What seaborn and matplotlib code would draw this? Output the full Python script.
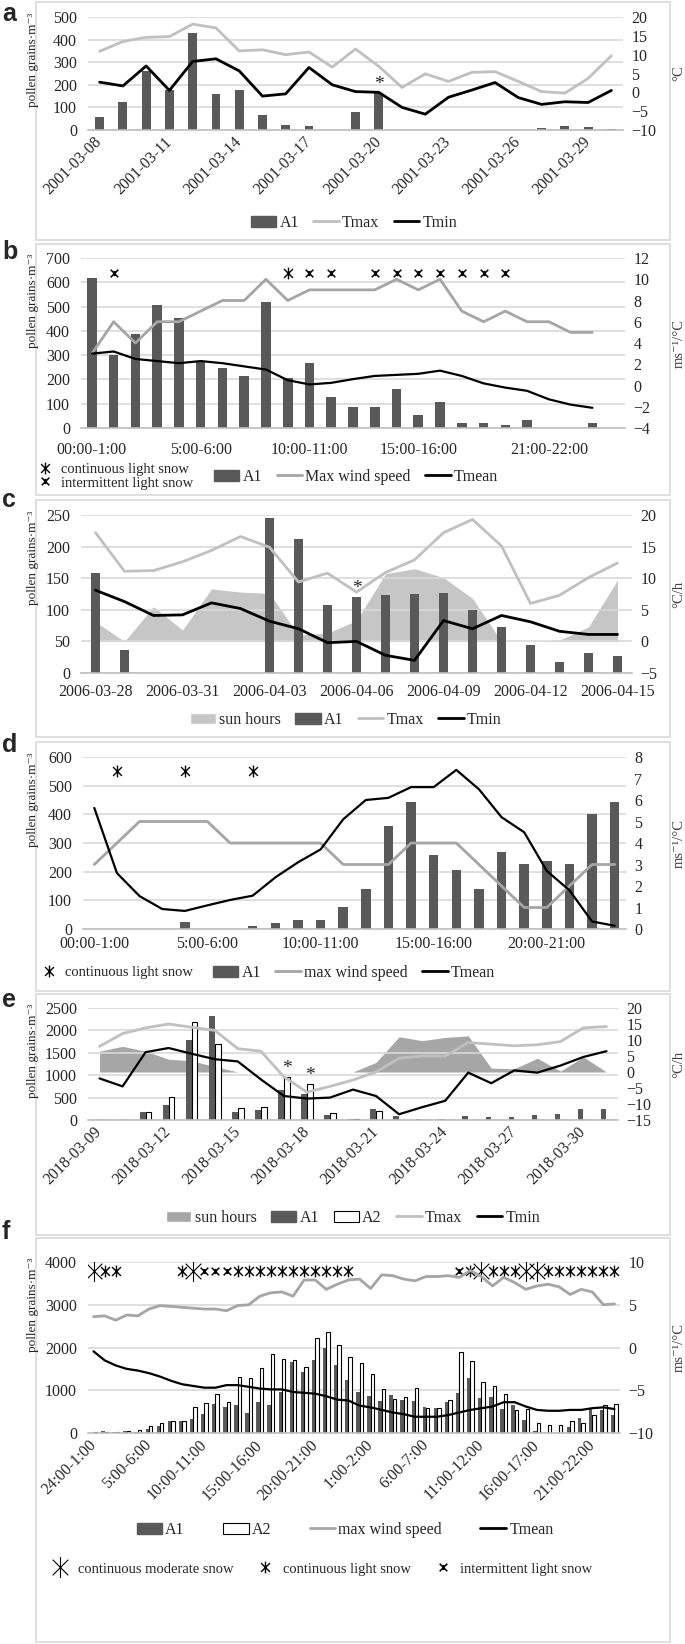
import numpy as np
import pandas as pd
import seaborn as sns
import matplotlib.pyplot as plt
from matplotlib.patches import Patch, Rectangle
from matplotlib.lines import Line2D
from matplotlib.path import Path

# ── Panel a: daily, 2001-03-08 .. 2001-03-30 ────────────────────────────
a_ticklabels = ["2001-03-08", "2001-03-11", "2001-03-14", "2001-03-17",
                "2001-03-20", "2001-03-23", "2001-03-26", "2001-03-29"]
a_a1 = [58, 125, 260, 175, 428, 160, 178, 65, 24, 16, 0, 80, 165,
        0, 0, 0, 0, 0, 0, 10, 18, 15, 3]
a_tmax = [10.9, 13.5, 14.6, 14.8, 18.1, 17.1, 11.0, 11.3, 10.0, 10.7, 6.7, 11.5,
          6.9, 1.3, 4.9, 2.9, 5.3, 5.5, 2.9, 0.2, -0.2, 3.7, 9.7]
a_tmin = [2.7, 1.7, 7.0, 0.5, 8.2, 8.9, 5.7, -1.0, -0.4, 6.6, 2.0, 0.2,
          0.0, -4.0, -5.8, -1.3, 0.6, 2.6, -1.4, -3.2, -2.5, -2.7, 0.5]
a_star = [12]
a_left = [0, 100, 200, 300, 400, 500]
a_right = [-10, -5, 0, 5, 10, 15, 20]

# ── Panel b: hourly ─────────────────────────────────────────────────────
b_ticklabels = {0: "00:00-1:00", 5: "5:00-6:00", 10: "10:00-11:00",
                15: "15:00-16:00", 21: "21:00-22:00"}
b_a1 = [617, 300, 387, 507, 452, 276, 249, 215, 517, 204, 269, 128,
        85, 85, 161, 52, 107, 22, 22, 11, 32, 0, 0, 22]
b_wind = [3, 6, 4, 6, 6, 7, 8, 8, 10, 8, 9, 9, 9, 9, 10, 9, 10, 7, 6, 7, 6, 6, 5, 5]
b_tmean = [3.0, 3.2, 2.5, 2.3, 2.1, 2.3, 2.1, 1.8, 1.5, 0.5, 0.1, 0.25,
           0.6, 0.9, 1.0, 1.1, 1.4, 0.9, 0.2, -0.2, -0.5, -1.3, -1.8, -2.1]
b_snow_light = [9]
b_snow_inter = [1, 10, 11, 13, 14, 15, 16, 17, 18, 19]
b_snow_level = 640
b_left = [0, 100, 200, 300, 400, 500, 600, 700]
b_right = [-4, -2, 0, 2, 4, 6, 8, 10, 12]

# ── Panel c: daily, 2006-03-28 .. 2006-04-15 ────────────────────────────
c_ticklabels = ["2006-03-28", "2006-03-31", "2006-04-03", "2006-04-06",
                "2006-04-09", "2006-04-12", "2006-04-15"]
c_a1 = [158, 37, 0, 0, 0, 0, 246, 212, 108, 121, 123, 125, 127, 100, 73, 45, 17, 31, 27]
c_tmax = [17.2, 11.1, 11.2, 12.6, 14.4, 16.6, 14.9, 9.4, 10.8, 7.8, 10.9, 12.9,
          17.2, 19.3, 15.1, 6.0, 7.3, 10.1, 12.4]
c_tmin = [8.1, 6.3, 4.1, 4.2, 6.1, 5.2, 3.2, 2.0, -0.2, 0.0, -2.2, -3.0,
          3.3, 2.0, 4.1, 3.1, 1.6, 1.1, 1.1]
c_sun = [3.1, 0.0, 5.5, 1.8, 8.3, 7.8, 7.6, 1.0, 1.3, 3.3, 10.7, 11.5,
         10.1, 6.8, 0.0, 0.0, 0.2, 2.3, 9.7]
c_star = [9]
c_left = [0, 50, 100, 150, 200, 250]
c_right = [-5, 0, 5, 10, 15, 20]

# ── Panel d: hourly ─────────────────────────────────────────────────────
d_ticklabels = {0: "00:00-1:00", 5: "5:00-6:00", 10: "10:00-11:00",
                15: "15:00-16:00", 20: "20:00-21:00"}
d_a1 = [0, 0, 0, 0, 23, 0, 0, 12, 22, 33, 32, 75, 141, 358, 443, 259,
        205, 141, 270, 226, 238, 226, 400, 443]
d_wind = [3, 4, 5, 5, 5, 5, 4, 4, 4, 4, 4, 3, 3, 3, 4, 4, 4, 3, 2, 1, 1, 2, 3, 3]
d_tmean = [5.63, 2.6, 1.53, 0.93, 0.84, 1.1, 1.35, 1.55, 2.4, 3.1, 3.7, 5.1,
           6.0, 6.1, 6.6, 6.6, 7.4, 6.5, 5.2, 4.5, 2.7, 1.8, 0.35, 0.15]
d_snow_light = [1, 4, 7]
d_snow_level = 550
d_left = [0, 100, 200, 300, 400, 500, 600]
d_right = [0, 1, 2, 3, 4, 5, 6, 7, 8]

# ── Panel e: daily, 2018-03-09 .. 2018-03-31 ────────────────────────────
e_ticklabels = ["2018-03-09", "2018-03-12", "2018-03-15", "2018-03-18",
                "2018-03-21", "2018-03-24", "2018-03-27", "2018-03-30"]
e_a1 = [10, 0, 178, 335, 1778, 2320, 171, 228, 664, 578, 107, 20,
        240, 80, 21, 25, 93, 71, 64, 121, 136, 236, 250]
e_a2 = [0, 0, 178, 507, 2192, 1707, 271, 300, 964, 807, 164, 14,
        210, 0, 0, 0, 0, 0, 0, 0, 0, 0, 0]
e_tmax = [8.0, 12.0, 13.8, 15.0, 14.0, 13.0, 7.3, 6.5, -1.5, -6.3, -4.5, -2.5,
          0.0, 4.3, 5.0, 5.0, 9.2, 8.7, 8.2, 8.5, 9.5, 13.8, 14.2]
e_tmin = [-2.0, -4.5, 6.2, 7.5, 5.7, 4.0, 3.3, -2.3, -7.5, -8.3, -8.0, -5.5,
          -7.5, -13.2, -11.0, -9.0, -0.2, -3.5, 0.5, -0.2, 2.0, 4.7, 6.5]
e_sun = [6.5, 8.0, 6.5, 4.0, 3.5, 1.7, 0, 0, 0, 0, 0, 0,
         3.0, 11.0, 9.8, 10.8, 11.3, 1.2, 1.0, 4.3, 0.3, 4.7, 0]
e_star = [8, 9]
e_left = [0, 500, 1000, 1500, 2000, 2500]
e_right = [-15, -10, -5, 0, 5, 10, 15, 20]

# ── Panel f: hourly over two days ───────────────────────────────────────
f_ticklabels = {0: "24:00-1:00", 5: "5:00-6:00", 10: "10:00-11:00", 15: "15:00-16:00",
                20: "20:00-21:00", 25: "1:00-2:00", 30: "6:00-7:00", 35: "11:00-12:00",
                40: "16:00-17:00", 45: "21:00-22:00"}
f_a1 = [10, 45, 20, 45, 15, 100, 170, 290, 270, 330, 440, 690, 600, 650, 460, 720,
        650, 970, 1670, 1430, 1700, 2000, 1600, 1250, 950,
        860, 740, 900, 780, 760, 600, 590, 720, 940, 1280, 830, 850, 570, 650, 300,
        50, 0, 0, 130, 350, 590, 530, 410]
f_a2 = [20, 30, 30, 50, 60, 170, 240, 270, 270, 600, 710, 910, 720, 1300, 1290, 1530,
        1850, 1720, 1700, 1550, 2220, 2370, 2060, 1780, 1640,
        1370, 1030, 800, 840, 1050, 580, 590, 780, 1900, 1690, 1190, 1110, 920, 530, 570,
        230, 180, 180, 270, 230, 430, 650, 670]
f_wind = [3.6, 3.7, 3.2, 3.8, 3.7, 4.5, 4.9, 4.8, 4.7, 4.6, 4.5, 4.5, 4.3, 4.9, 5.0, 6.0,
          6.4, 6.5, 6.0, 7.9, 7.9, 6.8, 7.4, 7.9, 8.0,
          6.9, 8.5, 8.4, 8.0, 7.8, 8.3, 8.3, 8.4, 8.2, 9.0, 8.3, 7.2, 8.2, 7.6, 6.8,
          7.2, 7.4, 7.1, 6.2, 6.8, 6.5, 5.0, 5.1]
f_tmean = [-0.45, -1.5, -2.1, -2.5, -2.7, -3.0, -3.4, -3.9, -4.3, -4.5, -4.7, -4.7,
           -4.4, -4.4, -4.6, -4.8, -4.9, -4.9, -5.2, -5.3, -5.4, -5.7, -6.1, -6.2, -6.8,
           -7.0, -7.3, -7.6, -7.8, -8.1, -8.1, -8.1, -7.9, -7.6, -7.3, -7.1, -6.9, -6.4,
           -6.4, -6.9, -7.3, -7.4, -7.4, -7.3, -7.3, -7.1, -7.0, -7.2]
f_snow_mod = [0, 9, 35, 39, 40]
f_snow_light = [1, 2, 8, 13, 14, 15, 16, 17, 18, 19, 20, 21, 22, 23,
                34, 36, 37, 38, 41, 42, 43, 44, 45, 46, 47]
f_snow_inter = [10, 11, 12, 33]
f_snow_level = 3800
f_left = [0, 1000, 2000, 3000, 4000]
f_right = [-10, -5, 0, 5, 10]

# ── style ───────────────────────────────────────────────────────────────
sns.set_theme(style="white")
plt.rcParams["font.family"] = ["Liberation Serif", "DejaVu Serif"]

W, H = 685, 1644
DARK = "#595959"
PALE = "#c0c0c0"
MID = "#a5a5a5"
GRID = "#d9d9d9"
TXT = "#262626"
YLAB = "pollen grains\u00b7m\u207b\u00b3"

SNOW = Path([(0, -1), (0, 1), (-0.75, -0.75), (0.75, 0.75), (-0.75, 0.75), (0.75, -0.75)],
            [Path.MOVETO, Path.LINETO] * 3)
CROSS = Path([(-0.8, -0.8), (0.8, 0.8), (-0.8, 0.8), (0.8, -0.8), (0, -0.55), (0, 0.55)],
             [Path.MOVETO, Path.LINETO] * 3)
MOD_STYLE = dict(marker=SNOW, ms=15, mew=0.8, color="black", ls="none")
LIGHT_STYLE = dict(marker=SNOW, ms=8.5, mew=1.0, color="black", ls="none")
INTER_STYLE = dict(marker=CROSS, ms=5.5, mew=1.1, color="black", ls="none")

fig = plt.figure(figsize=(W / 100, H / 100), dpi=100)


def fx(x):
    return x / W


def fy(y):
    return 1 - y / H


def frame(box, letter, letter_y):
    x0, y0, x1, y1 = box
    fig.patches.append(Rectangle((fx(x0), fy(y1)), (x1 - x0) / W, (y1 - y0) / H,
                                 transform=fig.transFigure, fill=False, ec=GRID, lw=1.2))
    fig.text(fx(2), fy(letter_y), letter, fontsize=18, fontweight="bold",
             family="Liberation Sans", va="center", ha="left")


def make_axes(plot, left, right, right_title):
    x0, y0, x1, y1 = plot
    ax = fig.add_axes([fx(x0), fy(y1), (x1 - x0) / W, (y1 - y0) / H])
    bg = ax.twinx()
    fg = ax.twinx()
    bg.set_zorder(1)
    ax.set_zorder(2)
    fg.set_zorder(3)
    for a in (ax, bg, fg):
        a.patch.set_visible(False)
        for s in a.spines.values():
            s.set_visible(False)
    ax.spines["bottom"].set_visible(True)
    ax.spines["bottom"].set_color("#bfbfbf")
    ax.spines["bottom"].set_linewidth(1.2)

    ax.set_ylim(left[0], left[-1])
    ax.set_yticks(left)
    ax.yaxis.grid(True, color=GRID, lw=1.2)
    ax.set_axisbelow(True)
    ax.tick_params(axis="y", length=0, labelsize=11.5, labelcolor=TXT, pad=8)

    for a in (bg, fg):
        a.set_ylim(right[0], right[-1])
    bg.set_yticks([])
    fg.set_yticks(right)
    fg.tick_params(axis="y", length=0, labelsize=11.5, labelcolor=TXT, pad=6)

    fig.text(fx(33), fy(y0 - 4), YLAB, rotation=90, va="top", ha="center",
             fontsize=9.5, color=TXT)
    fig.text(fx(679), fy((y0 + y1) / 2), right_title, rotation=90, va="center",
             ha="center", fontsize=10.5, color="#404040")
    return ax, bg, fg


def draw_bars(ax, series, colors, width):
    df = pd.DataFrame(series)
    df["idx"] = np.arange(len(df))
    long = df.melt(id_vars="idx", var_name="series", value_name="value")
    sns.barplot(data=long, x="idx", y="value", hue="series", palette=colors,
                width=width, saturation=1, errorbar=None, legend=False, ax=ax,
                linewidth=0)
    for name, cont in zip(series.keys(), ax.containers):
        if name == "A2":
            for p in cont:
                p.set_edgecolor("black")
                p.set_linewidth(0.8)
    ax.set_xlabel("")
    ax.set_ylabel("")


def draw_line(ax, vals, color, lw):
    sns.lineplot(x=np.arange(len(vals)), y=vals, ax=ax, color=color, linewidth=lw)
    ax.set_xlabel("")
    ax.set_ylabel("")


def draw_area(ax, vals, color):
    ax.fill_between(np.arange(len(vals)), 0, vals, color=color, lw=0)


def stars(ax, idx, container):
    for i in idx:
        p = ax.containers[container][i]
        ax.annotate("*", xy=(p.get_x() + p.get_width() / 2, p.get_height()),
                    xytext=(0, 0), textcoords="offset points", ha="center",
                    va="bottom", fontsize=14, color=TXT)


def cat_axis(ax, n_slots, ticks, minor_step, rotate, pad):
    pos = list(ticks.keys())
    ax.set_xlim(-0.5, n_slots - 0.5)
    ax.set_xticks(pos)
    if rotate:
        ax.set_xticklabels(list(ticks.values()), rotation=45, ha="right", va="center",
                           rotation_mode="anchor")
    else:
        ax.set_xticklabels(list(ticks.values()))
    ax.tick_params(axis="x", which="major", length=0, labelsize=11.5,
                   labelcolor=TXT, pad=pad)
    if minor_step:
        ax.set_xticks(np.arange(-0.5, n_slots, minor_step), minor=True)
        ax.tick_params(axis="x", which="minor", length=5, color="#bfbfbf", width=1.2)


def snow(ax, idx, level, style):
    ax.plot(idx, [level] * len(idx), **style)


def legend(handles, labels, cx, cy, fontsize=11.5, loc="center", **kw):
    opts = dict(ncol=len(handles), handlelength=1.6, handletextpad=0.2,
                columnspacing=0.9)
    opts.update(kw)
    fig.legend(handles, labels, loc=loc, bbox_to_anchor=(fx(cx), fy(cy)),
               frameon=False, fontsize=fontsize, borderaxespad=0, borderpad=0, **opts)


def line_handle(color, lw):
    return Line2D([0, 1], [0, 0], color=color, lw=lw)


H_A1 = Patch(facecolor=DARK, edgecolor=DARK)
H_A2 = Patch(facecolor="white", edgecolor="black", lw=0.8)

# ── a ───────────────────────────────────────────────────────────────────
frame((36, 2, 670, 240), "a", 14)
ax, bg, fg = make_axes((88, 17, 623, 130), a_left, a_right, "\u00b0C")
draw_bars(ax, {"A1": a_a1}, {"A1": DARK}, 0.38)
draw_line(fg, a_tmax, PALE, 2.0)
draw_line(fg, a_tmin, "black", 2.0)
stars(ax, a_star, 0)
cat_axis(ax, len(a_a1), dict(zip(range(0, len(a_a1), 3), a_ticklabels)), 3, True, 7)
legend([H_A1, line_handle(PALE, 2), line_handle("black", 2)], ["A1", "Tmax", "Tmin"], 354, 223)

# ── b ───────────────────────────────────────────────────────────────────
frame((36, 244, 670, 495), "b", 252)
ax, bg, fg = make_axes((81, 258, 625, 428), b_left, b_right, "ms\u207b\u00b9/\u00b0C")
draw_bars(ax, {"A1": b_a1}, {"A1": DARK}, 0.44)
draw_line(fg, b_wind, MID, 2.0)
draw_line(fg, b_tmean, "black", 1.6)
snow(ax, b_snow_light, b_snow_level, LIGHT_STYLE)
snow(ax, b_snow_inter, b_snow_level, INTER_STYLE)
cat_axis(ax, len(b_a1) + 1, b_ticklabels, 0, False, 10)
legend([Line2D([], [], **LIGHT_STYLE), Line2D([], [], **INTER_STYLE)],
       ["continuous light snow", "intermittent light snow"], 38, 476, fontsize=10.5,
       loc="center left", ncol=1, handlelength=1.0, labelspacing=0.05, handletextpad=0.6)
legend([H_A1, line_handle(MID, 2), line_handle("black", 2)],
       ["A1", "Max wind speed", "Tmean"], 356, 477)

# ── c ───────────────────────────────────────────────────────────────────
frame((36, 500, 670, 737), "c", 500)
ax, bg, fg = make_axes((81, 515, 632, 673), c_left, c_right, "\u00b0C/h")
draw_area(bg, c_sun, "#c6c6c6")
draw_bars(ax, {"A1": c_a1}, {"A1": DARK}, 0.34)
draw_line(fg, c_tmax, PALE, 2.0)
draw_line(fg, c_tmin, "black", 2.0)
stars(ax, c_star, 0)
cat_axis(ax, len(c_a1), dict(zip(range(0, len(c_a1), 3), c_ticklabels)), 3, False, 8)
legend([Patch(facecolor="#c6c6c6"), H_A1, line_handle(PALE, 2), line_handle("black", 2)],
       ["sun hours", "A1", "Tmax", "Tmin"], 346, 720)

# ── d ───────────────────────────────────────────────────────────────────
frame((36, 742, 670, 991), "d", 745)
ax, bg, fg = make_axes((83, 757, 626, 929), d_left, d_right, "ms\u207b\u00b9/\u00b0C")
draw_bars(ax, {"A1": d_a1}, {"A1": DARK}, 0.42)
draw_line(fg, d_wind, MID, 2.0)
draw_line(fg, d_tmean, "black", 1.6)
snow(ax, d_snow_light, d_snow_level, LIGHT_STYLE)
cat_axis(ax, len(d_a1), d_ticklabels, 1, False, 5)
legend([Line2D([], [], **LIGHT_STYLE)], ["continuous light snow"], 42, 972,
       fontsize=10.5, loc="center left", handlelength=1.0, handletextpad=0.6)
legend([H_A1, line_handle(MID, 2), line_handle("black", 2)],
       ["A1", "max wind speed", "Tmean"], 354, 973)

# ── e ───────────────────────────────────────────────────────────────────
frame((36, 994, 670, 1235), "e", 1000)
ax, bg, fg = make_axes((88, 1008, 618, 1120), e_left, e_right, "\u00b0C/h")
draw_area(bg, e_sun, "#a6a6a6")
draw_bars(ax, {"A1": e_a1, "A2": e_a2}, {"A1": DARK, "A2": "white"}, 0.5)
draw_line(fg, e_tmax, PALE, 2.0)
draw_line(fg, e_tmin, "black", 1.6)
stars(ax, e_star, 1)
cat_axis(ax, len(e_a1), dict(zip(range(0, len(e_a1), 3), e_ticklabels)), 1, True, 7)
legend([Patch(facecolor="#a6a6a6"), H_A1, H_A2, line_handle(PALE, 2), line_handle("black", 2)],
       ["sun hours", "A1", "A2", "Tmax", "Tmin"], 353, 1218)

# ── f ───────────────────────────────────────────────────────────────────
frame((36, 1238, 670, 1642), "f", 1232)
ax, bg, fg = make_axes((88, 1262, 620, 1433), f_left, f_right, "ms\u207b\u00b9/\u00b0C")
draw_bars(ax, {"A1": f_a1, "A2": f_a2}, {"A1": DARK, "A2": "white"}, 0.62)
draw_line(fg, f_wind, MID, 2.0)
draw_line(fg, f_tmean, "black", 1.6)
snow(ax, f_snow_mod, f_snow_level, MOD_STYLE)
snow(ax, f_snow_light, f_snow_level, LIGHT_STYLE)
snow(ax, f_snow_inter, f_snow_level, INTER_STYLE)
cat_axis(ax, len(f_a1), f_ticklabels, 2, True, 7)
legend([H_A1, H_A2, line_handle(MID, 2), line_handle("black", 2)],
       ["A1", "A2", "max wind speed", "Tmean"], 345, 1530, columnspacing=2.4)
legend([Line2D([], [], **MOD_STYLE), Line2D([], [], **LIGHT_STYLE), Line2D([], [], **INTER_STYLE)],
       ["continuous moderate snow", "continuous light snow", "intermittent light snow"],
       322, 1569, fontsize=10.5, handlelength=1.2, handletextpad=0.6, columnspacing=1.6)

fig.savefig("out.png", dpi=100, facecolor="white")
